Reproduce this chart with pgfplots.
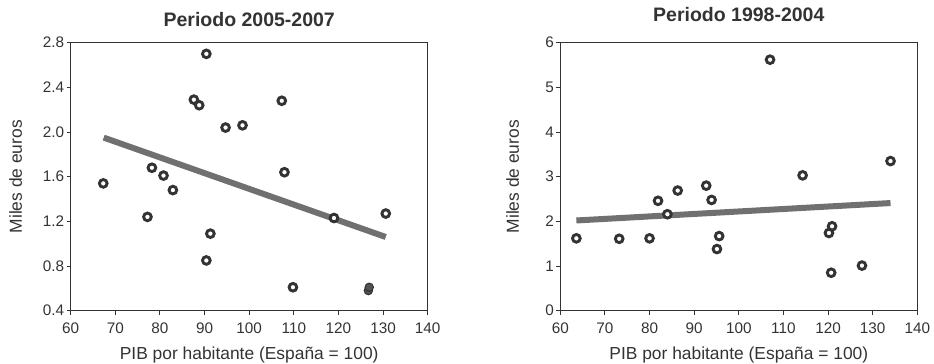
\documentclass[border=0pt]{standalone}
\usepackage{pgfplots}
\pgfplotsset{compat=1.18}
\usepackage{fontspec}
\setmainfont{Liberation Sans}
\definecolor{txt}{HTML}{333333}
\definecolor{fitc}{HTML}{707070}
\pgfplotsset{
  myaxis/.style={
    scale only axis, width=357bp, height=268bp,
    xmin=60, xmax=140, xtick={60,70,...,140},
    axis line style={draw=txt, line width=0.9bp},
    tick style={draw=txt, line width=0.9bp},
    major tick length=4bp,
    tick align=outside, xtick pos=left, ytick pos=left,
    ticklabel style={font=\fontsize{15.3bp}{17bp}\selectfont, text=txt},
    xticklabel style={yshift=-5bp},
    yticklabel style={xshift=1bp},
    /pgf/number format/assume math mode=true,
    label style={font=\fontsize{17.4bp}{19bp}\selectfont, text=txt},
    title style={font=\bfseries\fontsize{19.5bp}{21bp}\selectfont, text=txt},
    xlabel={PIB por habitante (España = 100)},
    ylabel={Miles de euros},
    xlabel style={at={(axis description cs:0.5,-0.183)}, anchor=base},
    clip=false,
  },
  pts/.style={only marks, mark=*, mark size=3.85bp,
    mark options={draw=txt, fill=white, line width=2.9bp}},
  fitline/.style={no marks, draw=fitc, line width=6bp},
}
\begin{document}
\begin{tikzpicture}
\useasboundingbox (-70.7bp,-53.3bp) rectangle (863.3bp,310.7bp);
\begin{axis}[myaxis, at={(0bp,0bp)}, anchor=south west,
  ymin=0.4, ymax=2.8, ytick={0.4,0.8,...,2.81},
  yticklabel style={/pgf/number format/.cd, fixed, fixed zerofill, precision=1},
  title={Periodo 2005-2007},
  title style={at={(axis description cs:0.5,1)}, anchor=base, yshift=10.7bp},
  ylabel style={at={(axis description cs:-0.137,0.5)}, rotate=0, anchor=base},
]
\addplot[pts] coordinates {
(67.3,1.54) (77.2,1.24) (78.2,1.68) (80.8,1.61) (82.9,1.48)
(87.6,2.29) (88.8,2.24) (90.4,2.70) (90.4,0.85) (91.3,1.09)
(94.7,2.04) (98.5,2.06) (107.3,2.28) (107.9,1.64) (109.8,0.61)
(119.0,1.23) (130.6,1.27)
};
\addplot[only marks, mark=*, mark size=4.2bp, mark options={draw=txt, fill=txt!85!white, line width=1bp}] coordinates {(126.7,0.58) (126.9,0.61)};
\addplot[fitline] coordinates {(67.4,1.95) (130.6,1.06)};
\end{axis}
\begin{axis}[myaxis, at={(489.6bp,0bp)}, anchor=south west,
  ymin=0, ymax=6, ytick={0,1,...,6},
  title={Periodo 1998-2004},
  title style={at={(axis description cs:0.5,1)}, anchor=base, yshift=15.6bp},
  ylabel style={at={(axis description cs:-0.116,0.5)}, rotate=0, anchor=base},
]
\addplot[pts] coordinates {
(63.6,1.62) (73.2,1.61) (80.0,1.62) (81.9,2.46) (84.0,2.16)
(86.3,2.69) (92.7,2.80) (93.9,2.48) (95.1,1.38) (95.6,1.67)
(107.0,5.62) (114.3,3.03) (120.2,1.74) (120.9,1.89) (120.7,0.85)
(127.6,1.01) (134.0,3.35)
};
\addplot[fitline] coordinates {(63.6,2.02) (134.0,2.41)};
\end{axis}
\end{tikzpicture}
\end{document}
